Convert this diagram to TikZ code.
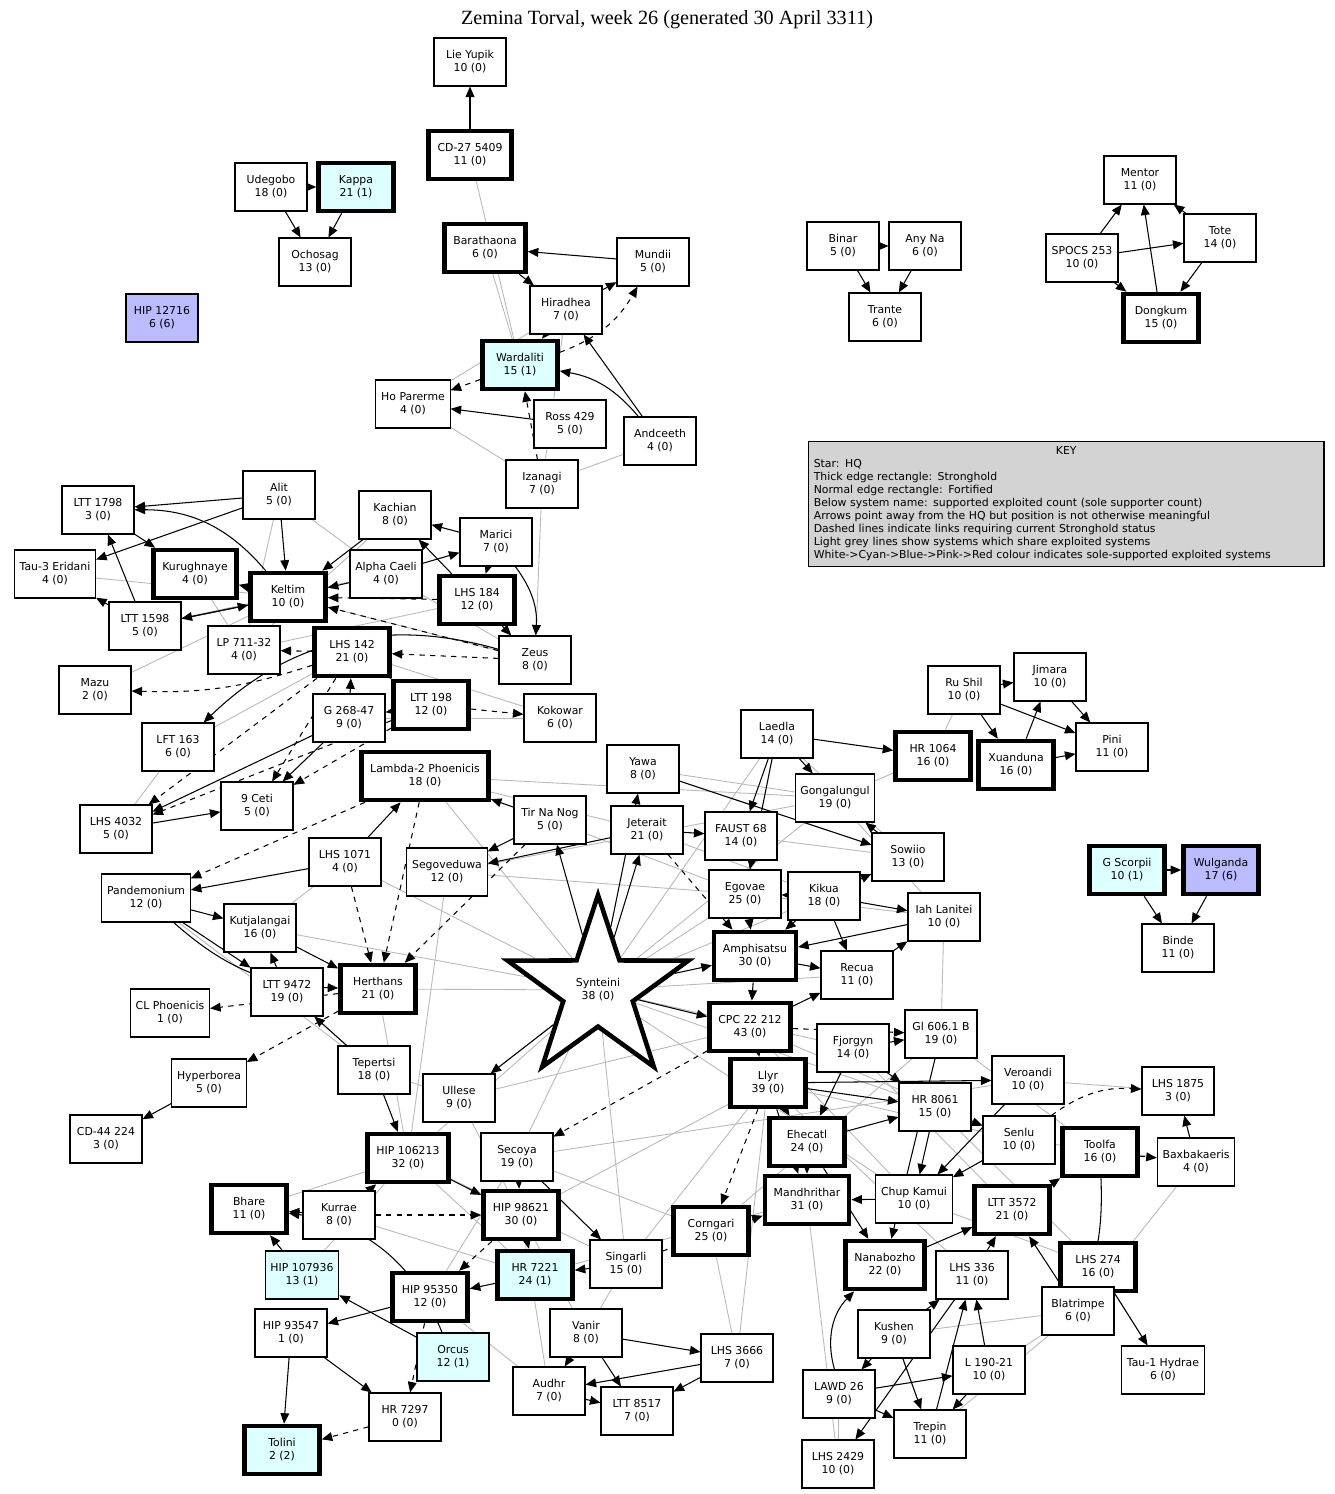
\documentclass[tikz,border=0pt]{standalone}
\usepackage{fontspec}
\setmainfont{DejaVu Sans}
\newfontfamily\titlefont{Liberation Serif}
\usetikzlibrary{arrows.meta,shapes.geometric,backgrounds}
\definecolor{cyanfill}{HTML}{DDFFFF}
\definecolor{bluefill}{HTML}{BBBBFF}
\definecolor{keyfill}{HTML}{D3D3D3}
\tikzset{
  sys/.style={draw,fill=white,line width=0.6pt,align=center,minimum width=1.44cm,minimum height=0.96cm,inner xsep=3pt,inner ysep=2pt,font=\fontsize{6.2}{7.4}\selectfont},
  fort/.style={sys},
  strong/.style={sys,line width=2.6pt,inner xsep=5pt,minimum width=1.5cm},
  cy/.style={fill=cyanfill},
  bl/.style={fill=bluefill},
  arr/.style={-{Triangle[length=6pt,width=5pt]},line width=0.6pt},
  dsh/.style={arr,dashed},
  share/.style={gray!55,line width=0.5pt}
}
\begin{document}
\begin{tikzpicture}[x=0.02cm,y=-0.02cm]
\useasboundingbox (0,0) rectangle (1335,1494);
\node[font=\titlefont\fontsize{11.5}{13}\selectfont] (title) at (667,20) {Zemina Torval, week 26 (generated 30 April 3311)};
% isolated groups
\node[fort] (lieyupik) at (470,62) {Lie Yupik\\10 (0)};
\node[strong] (cd27) at (470,155) {CD-27 5409\\11 (0)};
\node[fort] (udegobo) at (271,187) {Udegobo\\18 (0)};
\node[strong,cy] (kappa) at (356,187) {Kappa\\21 (1)};
\node[fort] (ochosag) at (315,262) {Ochosag\\13 (0)};
\node[fort,bl] (hip12716) at (162,318) {HIP 12716\\6 (6)};
\node[strong] (barathaona) at (485,248) {Barathaona\\6 (0)};
\node[fort] (mundii) at (653,262) {Mundii\\5 (0)};
\node[fort] (hiradhea) at (566,310) {Hiradhea\\7 (0)};
\node[strong,cy] (wardaliti) at (520,365) {Wardaliti\\15 (1)};
\node[fort] (hoparerme) at (413,404) {Ho Parerme\\4 (0)};
\node[fort] (ross429) at (570,424) {Ross 429\\5 (0)};
\node[fort] (andceeth) at (660,441) {Andceeth\\4 (0)};
\node[fort] (izanagi) at (542,484) {Izanagi\\7 (0)};
\node[fort] (binar) at (843,246) {Binar\\5 (0)};
\node[fort] (anyna) at (925,246) {Any Na\\6 (0)};
\node[fort] (trante) at (885,317) {Trante\\6 (0)};
\node[fort] (mentor) at (1140,180) {Mentor\\11 (0)};
\node[fort] (tote) at (1220,238) {Tote\\14 (0)};
\node[fort] (spocs) at (1082,258) {SPOCS 253\\10 (0)};
\node[strong] (dongkum) at (1161,318) {Dongkum\\15 (0)};
\node[draw,fill=keyfill,line width=0.6pt,anchor=north west,text width=10.1cm,inner sep=3pt,font=\fontsize{6.2}{7.4}\selectfont] (key) at (808,441)
 {\centering KEY\par\raggedright Star: HQ\\Thick edge rectangle: Stronghold\\Normal edge rectangle: Fortified\\Below system name: supported exploited count (sole supporter count)\\Arrows point away from the HQ but position is not otherwise meaningful\\Dashed lines indicate links requiring current Stronghold status\\Light grey lines show systems which share exploited systems\\White->Cyan->Blue->Pink->Red colour indicates sole-supported exploited systems};
% left cluster
\node[fort] (alit) at (279,495) {Alit\\5 (0)};
\node[fort] (ltt1798) at (98,510) {LTT 1798\\3 (0)};
\node[fort] (kachian) at (395,515) {Kachian\\8 (0)};
\node[fort] (marici) at (496,542) {Marici\\7 (0)};
\node[fort] (tau3) at (55,574) {Tau-3 Eridani\\4 (0)};
\node[strong] (kurughnaye) at (195,574) {Kurughnaye\\4 (0)};
\node[strong] (keltim) at (288,597) {Keltim\\10 (0)};
\node[fort] (alphacaeli) at (386,574) {Alpha Caeli\\4 (0)};
\node[strong] (lhs184) at (477,600) {LHS 184\\12 (0)};
\node[fort] (ltt1598) at (145,626) {LTT 1598\\5 (0)};
\node[fort] (lp711) at (244,650) {LP 711-32\\4 (0)};
\node[strong] (lhs142) at (352,652) {LHS 142\\21 (0)};
\node[fort] (zeus) at (535,660) {Zeus\\8 (0)};
\node[fort] (mazu) at (95,690) {Mazu\\2 (0)};
\node[fort] (g268) at (349,718) {G 268-47\\9 (0)};
\node[strong] (ltt198) at (431,705) {LTT 198\\12 (0)};
\node[fort] (kokowar) at (560,718) {Kokowar\\6 (0)};
\node[fort] (lft163) at (178,747) {LFT 163\\6 (0)};
\node[strong] (lambda2) at (425,776) {Lambda-2 Phoenicis\\18 (0)};
\node[fort] (ceti9) at (257,806) {9 Ceti\\5 (0)};
\node[fort] (lhs4032) at (116,829) {LHS 4032\\5 (0)};
\node[fort] (lhs1071) at (345,862) {LHS 1071\\4 (0)};
\node[fort] (segoveduwa) at (447,872) {Segoveduwa\\12 (0)};
\node[fort] (pandemonium) at (146,898) {Pandemonium\\12 (0)};
\node[fort] (kutjalangai) at (260,928) {Kutjalangai\\16 (0)};
\node[strong] (herthans) at (378,989) {Herthans\\21 (0)};
\node[fort] (ltt9472) at (287,992) {LTT 9472\\19 (0)};
\node[fort] (clphoenicis) at (170,1013) {CL Phoenicis\\1 (0)};
\node[fort] (tepertsi) at (374,1070) {Tepertsi\\18 (0)};
\node[fort] (hyperborea) at (209,1083) {Hyperborea\\5 (0)};
\node[fort] (cd44) at (106,1139) {CD-44 224\\3 (0)};
% right upper
\node[fort] (rushil) at (964,690) {Ru Shil\\10 (0)};
\node[fort] (jimara) at (1050,677) {Jimara\\10 (0)};
\node[fort] (pini) at (1112,747) {Pini\\11 (0)};
\node[strong] (xuanduna) at (1016,765) {Xuanduna\\16 (0)};
\node[strong] (hr1064) at (933,756) {HR 1064\\16 (0)};
\node[strong,cy] (gscorpii) at (1127,870) {G Scorpii\\10 (1)};
\node[strong,bl] (wulganda) at (1221,870) {Wulganda\\17 (6)};
\node[fort] (binde) at (1178,948) {Binde\\11 (0)};
% centre
\node[fort] (laedla) at (777,734) {Laedla\\14 (0)};
\node[fort] (yawa) at (643,769) {Yawa\\8 (0)};
\node[fort] (gongalungul) at (835,798) {Gongalungul\\19 (0)};
\node[fort] (tirnanog) at (550,820) {Tir Na Nog\\5 (0)};
\node[fort] (jeterait) at (647,830) {Jeterait\\21 (0)};
\node[fort] (faust68) at (741,836) {FAUST 68\\14 (0)};
\node[fort] (sowiio) at (908,857) {Sowiio\\13 (0)};
\node[fort] (egovae) at (745,894) {Egovae\\25 (0)};
\node[fort] (kikua) at (824,896) {Kikua\\18 (0)};
\node[fort] (iahlanitei) at (944,917) {Iah Lanitei\\10 (0)};
\node[strong] (amphisatsu) at (755,956) {Amphisatsu\\30 (0)};
\node[draw,star,star points=5,star point ratio=2.6,minimum size=3.8cm,line width=2.6pt,fill=white,align=center,inner sep=0pt,font=\fontsize{6.2}{7.4}\selectfont] (synteini) at (598,990) {Synteini\\38 (0)};
\node[fort] (recua) at (857,975) {Recua\\11 (0)};
\node[strong] (cpc) at (750,1027) {CPC 22 212\\43 (0)};
\node[fort] (gl606) at (941,1034) {Gl 606.1 B\\19 (0)};
\node[fort] (fjorgyn) at (853,1048) {Fjorgyn\\14 (0)};
\node[fort] (veroandi) at (1028,1080) {Veroandi\\10 (0)};
\node[strong] (llyr) at (768,1083) {Llyr\\39 (0)};
\node[fort] (lhs1875) at (1178,1091) {LHS 1875\\3 (0)};
\node[fort] (ullese) at (459,1098) {Ullese\\9 (0)};
\node[fort] (hr8061) at (935,1107) {HR 8061\\15 (0)};
\node[strong] (ehecatl) at (807,1142) {Ehecatl\\24 (0)};
\node[fort] (senlu) at (1019,1140) {Senlu\\10 (0)};
\node[strong] (hip106213) at (408,1158) {HIP 106213\\32 (0)};
\node[fort] (secoya) at (517,1157) {Secoya\\19 (0)};
\node[strong] (toolfa) at (1100,1152) {Toolfa\\16 (0)};
\node[fort] (baxbakaeris) at (1196,1162) {Baxbakaeris\\4 (0)};
\node[strong] (bhare) at (249,1209) {Bhare\\11 (0)};
\node[fort] (kurrae) at (339,1215) {Kurrae\\8 (0)};
\node[strong] (hip98621) at (521,1215) {HIP 98621\\30 (0)};
\node[strong] (mandhrithar) at (807,1200) {Mandhrithar\\31 (0)};
\node[fort] (chupkamui) at (914,1199) {Chup Kamui\\10 (0)};
\node[strong] (ltt3572) at (1012,1210) {LTT 3572\\21 (0)};
\node[strong] (corngari) at (711,1231) {Corngari\\25 (0)};
\node[fort,cy] (hip107936) at (302,1275) {HIP 107936\\13 (1)};
\node[strong,cy] (hr7221) at (535,1275) {HR 7221\\24 (1)};
\node[fort] (singarli) at (626,1264) {Singarli\\15 (0)};
\node[strong] (nanabozho) at (885,1265) {Nanabozho\\22 (0)};
\node[fort] (lhs336) at (972,1275) {LHS 336\\11 (0)};
\node[strong] (lhs274) at (1098,1267) {LHS 274\\16 (0)};
\node[strong] (hip95350) at (430,1297) {HIP 95350\\12 (0)};
\node[fort] (blatrimpe) at (1078,1311) {Blatrimpe\\6 (0)};
\node[fort] (hip93547) at (291,1333) {HIP 93547\\1 (0)};
\node[fort,cy] (orcus) at (453,1357) {Orcus\\12 (1)};
\node[fort] (vanir) at (586,1333) {Vanir\\8 (0)};
\node[fort] (kushen) at (894,1334) {Kushen\\9 (0)};
\node[fort] (lhs3666) at (737,1358) {LHS 3666\\7 (0)};
\node[fort] (tau1) at (1163,1370) {Tau-1 Hydrae\\6 (0)};
\node[fort] (l190) at (989,1370) {L 190-21\\10 (0)};
\node[fort] (audhr) at (549,1391) {Audhr\\7 (0)};
\node[fort] (lawd26) at (839,1394) {LAWD 26\\9 (0)};
\node[fort] (hr7297) at (405,1417) {HR 7297\\0 (0)};
\node[fort] (ltt8517) at (637,1411) {LTT 8517\\7 (0)};
\node[strong,cy] (tolini) at (282,1450) {Tolini\\2 (2)};
\node[fort] (trepin) at (930,1434) {Trepin\\11 (0)};
\node[fort] (lhs2429) at (838,1464) {LHS 2429\\10 (0)};
% shared systems and links, behind the boxes
\begin{scope}[on background layer]
\foreach \a/\b in {cd27/wardaliti,barathaona/wardaliti,hiradhea/hoparerme,hoparerme/izanagi,izanagi/andceeth,izanagi/zeus,hiradhea/izanagi,
  alit/alphacaeli,alit/lp711,kurughnaye/lp711,ltt1598/alphacaeli,tau3/keltim,kachian/lp711,alphacaeli/zeus,keltim/zeus,lhs184/lp711,
  mazu/keltim,lft163/lhs142,lft163/lhs4032,lhs142/kokowar,g268/kokowar,lambda2/gongalungul,lambda2/jeterait,lambda2/synteini,
  lhs1071/synteini,segoveduwa/gongalungul,segoveduwa/egovae,segoveduwa/hip106213,kutjalangai/lhs1071,kutjalangai/synteini,
  pandemonium/tepertsi,herthans/synteini,ltt9472/tepertsi,herthans/hip106213,tepertsi/ullese,ullese/synteini,ullese/hip98621,
  synteini/egovae,synteini/gongalungul,synteini/laedla,synteini/kikua,synteini/recua,synteini/fjorgyn,synteini/secoya,
  synteini/hip106213,synteini/singarli,synteini/chupkamui,synteini/hr8061,yawa/gongalungul,yawa/sowiio,tirnanog/egovae,
  jeterait/kikua,faust68/sowiio,egovae/iahlanitei,gongalungul/iahlanitei,laedla/sowiio,rushil/hr1064,hr1064/gongalungul,
  iahlanitei/gl606,cpc/chupkamui,cpc/senlu,llyr/senlu,llyr/lhs336,fjorgyn/ltt3572,hr8061/lhs274,gl606/toolfa,veroandi/lhs1875,
  chupkamui/lhs274,senlu/baxbakaeris,baxbakaeris/blatrimpe,lhs274/tau1,blatrimpe/trepin,l190/blatrimpe,kushen/blatrimpe,
  lhs3666/corngari,lhs3666/llyr,vanir/singarli,audhr/hip98621,secoya/corngari,hr7221/mandhrithar,hip95350/audhr,
  hip107936/hip106213,kurrae/hr7221,hip106213/hr7221,hip106213/singarli,bhare/hip106213,hip95350/secoya,vanir/hip98621,
  lawd26/lhs2429,kushen/trepin,corngari/gl606,singarli/llyr,hip98621/llyr,secoya/veroandi,ullese/cpc,lhs2429/mandhrithar}
  \draw[share] (\a) -- (\b);
% arrows
\draw[arr] (cd27) -- (lieyupik);
\draw[arr] (udegobo) -- (kappa);
\draw[arr] (udegobo) -- (ochosag);
\draw[arr] (kappa) -- (ochosag);
\draw[arr] (mundii) -- (barathaona);
\draw[arr] (hiradhea) -- (mundii);
\draw[arr] (barathaona) -- (hiradhea);
\draw[arr] (hiradhea) -- (wardaliti);
\draw[dsh] (wardaliti) to[bend right=20] (mundii);
\draw[dsh] (wardaliti) -- (hoparerme);
\draw[arr] (ross429) -- (hoparerme);
\draw[arr] (andceeth) to[bend right=20] (wardaliti);
\draw[arr] (andceeth) -- (hiradhea);
\draw[dsh] (izanagi) -- (wardaliti);
\draw[arr] (binar) -- (anyna);
\draw[arr] (binar) -- (trante);
\draw[arr] (anyna) -- (trante);
\draw[arr] (spocs) -- (mentor);
\draw[arr] (spocs) -- (tote);
\draw[arr] (tote) -- (mentor);
\draw[arr] (tote) -- (dongkum);
\draw[arr] (dongkum) -- (mentor);
\draw[arr] (spocs) -- (dongkum);
\draw[arr] (alit) -- (ltt1798);
\draw[arr] (alit) -- (tau3);
\draw[arr] (alit) -- (keltim);
\draw[arr] (keltim) to[bend right=25] (ltt1798);
\draw[arr] (ltt1798) -- (kurughnaye);
\draw[arr] (ltt1598) -- (tau3);
\draw[arr] (ltt1598) -- (ltt1798);
\draw[arr] (keltim) -- (kurughnaye);
\draw[arr] (ltt1598) -- (keltim);
\draw[arr] (keltim) -- (ltt1598);
\draw[arr] (marici) -- (kachian);
\draw[arr] (marici) -- (lhs184);
\draw[arr] (lhs184) -- (kachian);
\draw[arr] (alphacaeli) -- (marici);
\draw[arr] (alphacaeli) -- (keltim);
\draw[arr] (kachian) -- (keltim);
\draw[dsh] (lhs184) -- (keltim);
\draw[arr] (lhs184) -- (zeus);
\draw[arr] (marici) to[bend left=20] (zeus);
\draw[dsh] (zeus) -- (keltim);
\draw[dsh] (zeus) -- (lhs142);
\draw[dsh] (lhs142) -- (lp711);
\draw[dsh] (lhs142) to[bend left=10] (mazu);
\draw[arr] (lhs142) -- (ltt198);
\draw[arr] (g268) -- (lhs142);
\draw[arr] (ltt198) -- (g268);
\draw[arr] (g268) -- (ceti9);
\draw[arr] (g268) -- (lhs4032);
\draw[dsh] (ltt198) -- (ceti9);
\draw[dsh] (ltt198) -- (lhs4032);
\draw[dsh] (lhs142) -- (lhs4032);
\draw[dsh] (lhs142) -- (ceti9);
\draw[dsh] (ltt198) -- (kokowar);
\draw[arr] (zeus) to[bend right=30] (lft163);
\draw[arr] (lhs4032) -- (ceti9);
\draw[dsh] (lambda2) -- (pandemonium);
\draw[dsh] (lambda2) -- (herthans);
\draw[arr] (lhs1071) -- (lambda2);
\draw[arr] (lhs1071) -- (pandemonium);
\draw[dsh] (lhs1071) -- (herthans);
\draw[arr] (pandemonium) -- (kutjalangai);
\draw[arr] (pandemonium) -- (ltt9472);
\draw[arr] (pandemonium) to[bend right=20] (herthans);
\draw[arr] (ltt9472) -- (kutjalangai);
\draw[arr] (kutjalangai) -- (herthans);
\draw[dsh] (herthans) -- (clphoenicis);
\draw[dsh] (herthans) -- (hyperborea);
\draw[arr] (tepertsi) -- (ltt9472);
\draw[arr] (tepertsi) -- (hip106213);
\draw[arr] (hyperborea) -- (cd44);
\draw[arr] (tirnanog) -- (segoveduwa);
\draw[dsh] (tirnanog) -- (herthans);
\draw[arr] (tirnanog) -- (lambda2);
\draw[arr] (synteini) -- (tirnanog);
\draw[arr] (synteini) -- (jeterait);
\draw[arr] (synteini) -- (amphisatsu);
\draw[arr] (synteini) -- (cpc);
\draw[arr] (synteini) -- (ullese);
\draw[arr] (synteini) -- (yawa);
\draw[arr] (jeterait) -- (faust68);
\draw[arr] (jeterait) -- (segoveduwa);
\draw[arr] (laedla) -- (faust68);
\draw[arr] (laedla) -- (hr1064);
\draw[arr] (laedla) -- (gongalungul);
\draw[arr] (laedla) -- (egovae);
\draw[arr] (yawa) -- (sowiio);
\draw[arr] (egovae) -- (amphisatsu);
\draw[arr] (kikua) -- (egovae);
\draw[arr] (kikua) -- (amphisatsu);
\draw[arr] (kikua) -- (iahlanitei);
\draw[arr] (kikua) -- (recua);
\draw[arr] (kikua) -- (sowiio);
\draw[arr] (recua) -- (iahlanitei);
\draw[arr] (amphisatsu) -- (cpc);
\draw[arr] (amphisatsu) -- (recua);
\draw[arr] (sowiio) -- (gongalungul);
\draw[arr] (iahlanitei) -- (amphisatsu);
\draw[dsh] (jeterait) -- (amphisatsu);
\draw[arr] (cpc) -- (recua);
\draw[arr] (cpc) -- (llyr);
\draw[dsh] (cpc) -- (gl606);
\draw[dsh] (cpc) -- (secoya);
\draw[arr] (llyr) -- (ehecatl);
\draw[dsh] (llyr) -- (corngari);
\draw[arr] (llyr) -- (hr8061);
\draw[arr] (llyr) -- (veroandi);
\draw[arr] (llyr) -- (mandhrithar);
\draw[arr] (fjorgyn) -- (gl606);
\draw[arr] (fjorgyn) -- (ehecatl);
\draw[arr] (fjorgyn) -- (hr8061);
\draw[arr] (hr8061) -- (chupkamui);
\draw[arr] (ehecatl) -- (mandhrithar);
\draw[arr] (ehecatl) -- (hr8061);
\draw[arr] (ehecatl) -- (nanabozho);
\draw[arr] (gl606) -- (nanabozho);
\draw[arr] (veroandi) -- (chupkamui);
\draw[arr] (chupkamui) -- (mandhrithar);
\draw[arr] (senlu) -- (chupkamui);
\draw[dsh] (hr8061) -- (senlu);
\draw[arr] (nanabozho) -- (ltt3572);
\draw[arr] (ltt3572) -- (toolfa);
\draw[dsh] (senlu) to[bend left=20] (lhs1875);
\draw[arr] (baxbakaeris) -- (lhs1875);
\draw[dsh] (toolfa) -- (baxbakaeris);
\draw[arr] (lhs274) -- (tau1);
\draw[arr] (toolfa) to[bend left=10] (blatrimpe);
\draw[arr] (blatrimpe) -- (ltt3572);
\draw[arr] (blatrimpe) -- (lhs274);
\draw[arr] (lhs336) -- (ltt3572);
\draw[arr] (kushen) -- (lawd26);
\draw[arr] (kushen) -- (trepin);
\draw[arr] (kushen) -- (lhs336);
\draw[arr] (l190) -- (lhs336);
\draw[arr] (l190) -- (trepin);
\draw[arr] (lawd26) -- (trepin);
\draw[arr] (lawd26) -- (l190);
\draw[arr] (trepin) -- (lhs336);
\draw[arr] (lhs336) -- (lhs2429);
\draw[arr] (lawd26) to[bend left=30] (nanabozho);
\draw[arr] (rushil) -- (jimara);
\draw[arr] (rushil) -- (pini);
\draw[arr] (rushil) -- (xuanduna);
\draw[arr] (jimara) -- (pini);
\draw[arr] (xuanduna) -- (jimara);
\draw[arr] (xuanduna) -- (pini);
\draw[arr] (gscorpii) -- (wulganda);
\draw[arr] (gscorpii) -- (binde);
\draw[arr] (wulganda) -- (binde);
\draw[arr] (hip106213) -- (hip98621);
\draw[arr] (kurrae) -- (bhare);
\draw[arr] (kurrae) -- (hip106213);
\draw[dsh] (kurrae) -- (hip98621);
\draw[arr] (hip98621) -- (hr7221);
\draw[dsh] (hip98621) -- (hip95350);
\draw[arr] (secoya) -- (hip98621);
\draw[arr] (secoya) -- (singarli);
\draw[arr] (hr7221) -- (hip95350);
\draw[arr] (singarli) -- (hr7221);
\draw[dsh] (singarli) -- (mandhrithar);
\draw[arr] (hip95350) -- (hip93547);
\draw[dsh] (hip95350) -- (hr7297);
\draw[arr] (hip93547) -- (tolini);
\draw[arr] (hip93547) -- (hr7297);
\draw[dsh] (hr7297) -- (tolini);
\draw[arr] (orcus) -- (hip107936);
\draw[arr] (orcus) to[bend right=30] (bhare);
\draw[arr] (hip107936) -- (bhare);
\draw[arr] (vanir) -- (audhr);
\draw[arr] (vanir) -- (lhs3666);
\draw[arr] (vanir) -- (ltt8517);
\draw[arr] (lhs3666) -- (ltt8517);
\draw[arr] (lhs3666) -- (audhr);
\draw[arr] (audhr) -- (ltt8517);
\end{scope}
\end{tikzpicture}
\end{document}
